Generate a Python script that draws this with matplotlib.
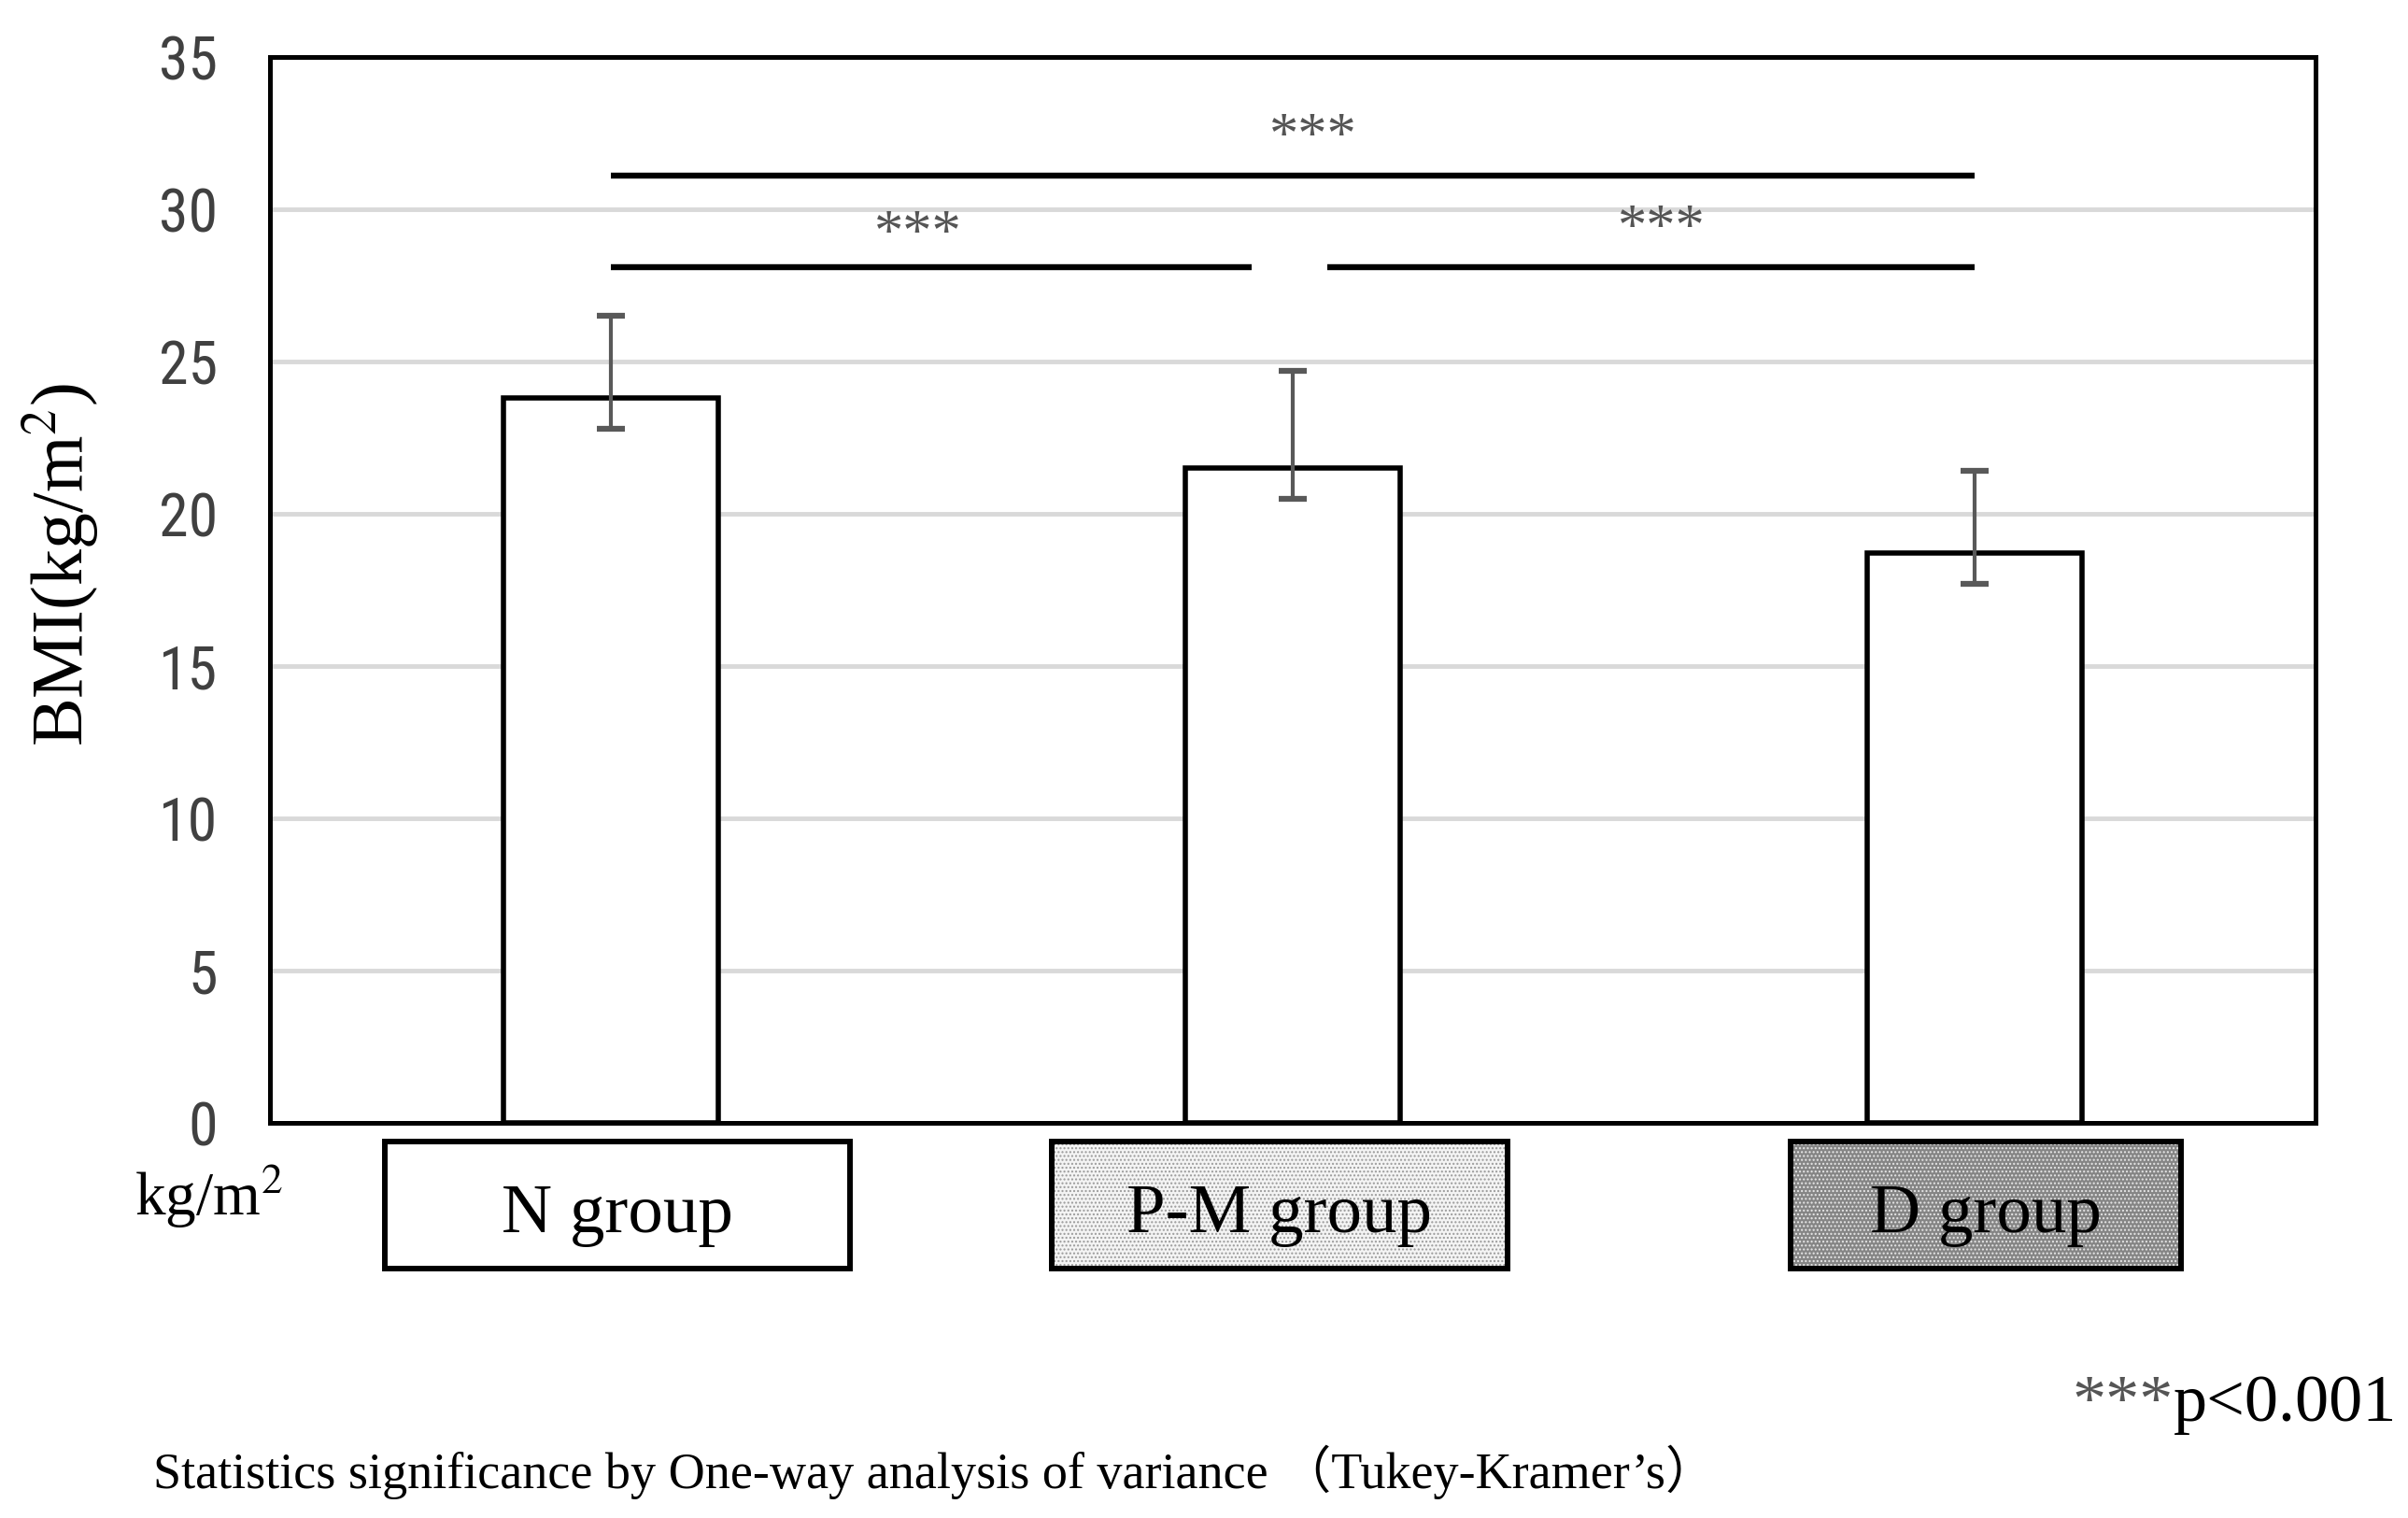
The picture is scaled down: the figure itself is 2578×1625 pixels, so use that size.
import matplotlib
matplotlib.use("Agg")
import matplotlib.pyplot as plt
from matplotlib.patches import Rectangle
import matplotlib.transforms as mtransforms
from matplotlib import font_manager

# ---- data ----
categories = ["N group", "P-M group", "D group"]
means = [23.8, 21.5, 18.7]
err_high = [26.5, 24.7, 21.4]
err_low = [22.8, 20.5, 17.7]
yticks = [0, 5, 10, 15, 20, 25, 30, 35]
sig_lines = [(0.0, 0.94, 28.1), (1.05, 2.0, 28.1), (0.0, 2.0, 31.1)]
sig_labels = [(0.45, 29.1, "***"), (1.54, 29.3, "***"), (1.03, 32.3, "***")]
box_fills = ["white", "#f4f4f4", "#858585"]
box_hatch = [None, "....", "...."]
box_hatch_col = [None, "#9a9a9a", "#e8e8e8"]
box_extents = [(-0.331, 0.351), (0.646, 1.315), (1.73, 2.302)]

serif = ["Liberation Serif", "DejaVu Serif"]
serif_cjk = ["Liberation Serif", "Noto Sans CJK JP", "DejaVu Serif"]

# pick a narrow sans for the tick labels, if one is installed
names = {f.name for f in font_manager.fontManager.ttflist}
narrow_family = "DejaVu Sans"
narrow_stretch = "normal"
for cand in ["Liberation Sans Narrow", "Roboto Condensed", "Open Sans Condensed",
             "DejaVu Sans Condensed"]:
    if cand in names:
        narrow_family = cand
        break
else:
    cond = [f for f in font_manager.fontManager.ttflist
            if f.name in ("DejaVu Sans", "Roboto", "Open Sans", "Noto Sans")
            and f.stretch in ("condensed", "semi-condensed", 75, 87.5)]
    if cond:
        narrow_family = cond[0].name
        narrow_stretch = "condensed"

fig = plt.figure(figsize=(25.78, 16.25), dpi=100)
ax = fig.add_axes([0.1121, 0.2603, 0.8496, 0.7022])

x = list(range(len(categories)))
ax.set_axisbelow(True)
ax.yaxis.grid(True, color="#d9d9d9", linewidth=3.5, zorder=0)
ax.bar(x, means, width=0.315, color="white", edgecolor="black",
       linewidth=4.0, zorder=3)
yerr = [[m - l for m, l in zip(means, err_low)],
        [h - m for m, h in zip(means, err_high)]]
ax.errorbar(x, means, yerr=yerr, fmt="none", ecolor="#595959",
            elinewidth=3.0, capsize=10.5, capthick=4.5, zorder=4)

for x0, x1, y in sig_lines:
    ax.plot([x0, x1], [y, y], color="black", linewidth=4.6,
            solid_capstyle="butt", zorder=5)
for lx, ly, t in sig_labels:
    ax.text(lx, ly, t, ha="center", va="center", fontsize=45,
            color="#555555", family=serif, zorder=6)

ax.set_xlim(-0.5, 2.5)
ax.set_ylim(0, 35)
ax.set_yticks(yticks)
ax.set_yticklabels([str(v) for v in yticks], family=narrow_family,
                   fontstretch=narrow_stretch, fontsize=46,
                   color="#404040")
ax.set_xticks([])
ax.tick_params(axis="y", length=0, pad=40)
for s in ax.spines.values():
    s.set_linewidth(3.6)
    s.set_color("black")

fig.text(0.0253, 0.628, r"BMI(kg/m$^{2}$)", rotation=90, ha="center",
         va="center", fontsize=56, family=serif,
         math_fontfamily="stix")

trans = mtransforms.blended_transform_factory(ax.transData, ax.transAxes)
for (bx0, bx1), name, fc, h, hc in zip(box_extents, categories, box_fills,
                                       box_hatch, box_hatch_col):
    y0, y1 = -0.137, -0.0173
    base = Rectangle((bx0, y0), bx1 - bx0, y1 - y0, transform=trans,
                     facecolor=fc, edgecolor="none", clip_on=False, zorder=2)
    ax.add_patch(base)
    if h:
        hp = Rectangle((bx0, y0), bx1 - bx0, y1 - y0, transform=trans,
                       facecolor="none", edgecolor=hc, hatch=h,
                       linewidth=0, clip_on=False, zorder=2.5)
        ax.add_patch(hp)
    border = Rectangle((bx0, y0), bx1 - bx0, y1 - y0, transform=trans,
                       facecolor="none", edgecolor="black", linewidth=4.3,
                       clip_on=False, zorder=3)
    ax.add_patch(border)
    ax.text((bx0 + bx1) / 2, (y0 + y1) / 2 - 0.01, name, transform=trans,
            ha="center", va="center", fontsize=54, family=serif, zorder=4)

fig.text(0.056, 0.212, r"kg/m$^{2}$", ha="left", va="center", fontsize=47,
         family=serif, math_fontfamily="stix")
pt = fig.text(0.9955, 0.0745, "p<0.001", ha="right", va="center", fontsize=52,
              family=serif, color="black")
fig.texts.append(None) if False else None
ann = plt.annotate("***", xy=(0, 0.5), xycoords=pt, ha="right", va="center",
                   fontsize=52, family=serif, color="#555555",
                   annotation_clip=False)
fig.text(0.0636, 0.030,
         "Statistics significance by One-way analysis of variance \uff08Tukey-Kramer\u2019s\uff09",
         ha="left", va="center", fontsize=39, family=serif_cjk)

fig.savefig("out.png", dpi=100, facecolor="white")
